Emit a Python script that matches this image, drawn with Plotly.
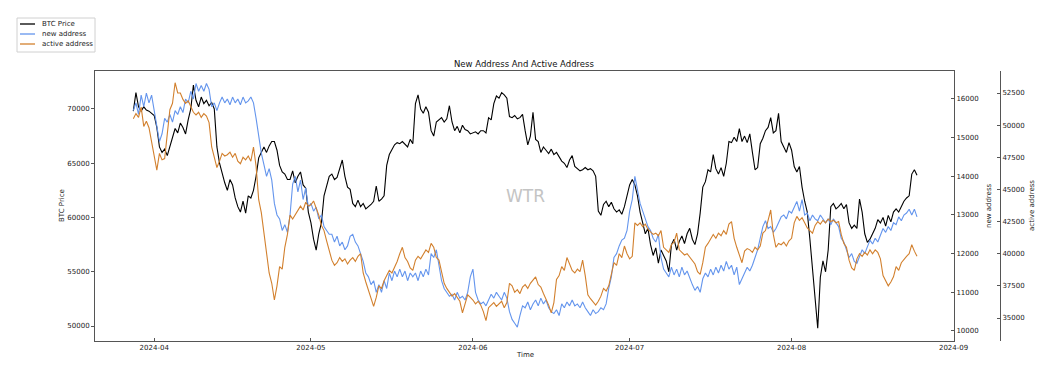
import pandas as pd
import plotly.graph_objects as go

START = "2024-03-28 00:00"
STEP = "12h"

btc_price = [
    69800,71500, 70200,69800, 70200,69900, 69800,69600, 69400,68300, 66500,66000, 66300,65700, 66500,67500, 68200,67800, 68700,68300,
    67700,69000, 70000,72200, 70800,70200, 71100,70500, 70800,70300, 70600,70000, 66500,65000, 64000,63200, 62500,63500, 63000,61800,
    61000,60500, 61500,60400, 62000,61800, 62500,63800, 65500,66000, 66500,66000, 66600,67000, 67000,66200, 64800,64200, 64000,63500,
    63500,64300, 63200,63800, 64200,63000, 62700,60500, 59500,58000, 57000,58500, 59500,62000, 63000,63800, 64000,63500, 63700,64500,
    65300,63800, 62800,62600, 61300,61000, 61600,61000, 61300,60800, 61000,61200, 61500,62900, 61500,61700, 62000,64800, 65800,66300,
    66700,66900, 66800,67000, 66700,66500, 67200,66800, 70500,71300, 70000,69600, 70200,69700, 68000,67500, 68800,69000, 69200,68800,
    69100,70300, 68800,68000, 68400,67800, 68500,68100, 68000,67700, 67800,67900, 67700,68000, 68000,67800, 69200,69000, 70500,71200,
    71000,71500, 71300,71000, 69300,69200, 69400,69100, 69200,69500, 68000,66700, 67500,69700, 67200,67000, 66000,66500, 66200,65900,
    66300,65800, 66000,65600, 65200,65000, 64600,65300, 65700,64700, 64500,64300, 64400,64600, 64400,64500, 64300,63800, 60600,60200,
    61200,61500, 61000,61400, 60800,60500, 60700,60300, 61000,62000, 63000,63500, 63000,62000, 60500,59500, 58500,59000, 57500,56500,
    57200,55800, 57000,56500, 56000,55000, 57500,58000, 57000,57800, 58300,57600, 58500,59000, 58000,57500, 58500,60400, 62800,63300,
    64400,64200, 65800,64500, 64000,64600, 63800,65000, 67000,66900, 67400,67000, 68200,67000, 67500,66900, 67700,66000, 64400,64600,
    66800,67300, 68000,68300, 69200,67800, 68000,69600, 67000,66500, 66000,66900, 66200,64700, 64200,64700, 62800,61500, 60500,58000,
    55000,52000, 49800,54500, 56000,55000, 57000,61000, 61300,60800, 61000,61300, 60800,61200, 59500,59000, 59300,59000, 61700,60500,
    58500,57700, 58000,58500, 59000,59800, 59500,60000, 59200,60200, 59600,60500, 60800,60500, 61000,61500, 61800,62000, 64000,64400,
    63900,
]

new_address = [
    15700,15900, 15600,16100, 15800,16150, 15900,16100, 15700,15300, 14900,15100, 15500,15400, 15600,15400, 15700,15600, 15800,15650,
    16000,15900, 16200,16000, 16400,16200, 16350,16200, 16400,16250, 15800,15900, 15700,15900, 16050,15900, 16000,15850, 16050,15900,
    16000,15850, 16050,15900, 15950,16050, 15900,15500, 15000,14600, 14300,14000, 14200,13900, 13300,13000, 12900,12600, 12750,12550,
    13000,13800, 14000,13600, 13900,13400, 13700,13200, 13300,13100, 13200,12900, 13000,12700, 12600,12500, 12500,12300, 12450,12200,
    12300,12100, 12200,12450, 12500,12300, 12200,12000, 11800,11500, 11400,11200, 11300,11000, 11200,11000, 11300,11100, 11500,11300,
    11550,11400, 11600,11400, 11550,11300, 11500,11400, 11500,11300, 11550,11400, 11600,11450, 12000,11900, 12100,11700, 11300,11100,
    11000,10900, 10950,10800, 11000,10850, 10900,10800, 11000,11400, 11600,11000, 10800,10700, 10750,10650, 10800,10950, 10850,11000,
    10900,10800, 11000,10850, 10500,10300, 10200,10100, 10400,10650, 10600,10750, 10550,10700, 10800,10650, 10850,10700, 10800,10600,
    10500,10450, 10550,10400, 10700,10600, 10750,10650, 10800,10650, 10700,10600, 10750,10600, 10500,10400, 10550,10450, 10500,10600,
    10550,10700, 11100,11400, 11900,12000, 12200,12350, 12400,12600, 13100,13400, 14000,13600, 13300,13100, 12900,12700, 12600,12400,
    12300,12500, 11900,11600, 11500,11400, 11650,11450, 11600,11400, 11650,11450, 11550,11350, 11200,11050, 11150,11000, 11350,11500,
    11400,11600, 11450,11650, 11500,11700, 11550,11800, 11600,11700, 11450,11650, 11200,11350, 11500,11650, 11550,11700, 11900,12100,
    12400,12700, 12850,12650, 12700,12550, 12650,12800, 12950,13000, 12900,13100, 13050,13200, 13350,13100, 13400,13000, 13050,12850,
    13000,12900, 12850,13000, 12900,12800, 12900,12750, 12900,12800, 12700,12400, 12300,12100, 11900,12000, 11800,11750, 11950,12100,
    12000,12200, 12350,12250, 12400,12300, 12500,12650, 12550,12700, 12600,12800, 12750,12950, 12850,13000, 13050,13150, 13000,13150,
    12950,
]

active_address = [
    50500,50900, 50600,51400, 49900,50300, 49800,48600, 47500,46500, 47800,47300, 47400,49500, 51200,51700, 53300,52500, 52500,52000,
    51700,51900, 51400,51000, 50800,51000, 50600,50900, 50700,50200, 48300,47500, 46700,47200, 47800,47600, 47700,47900, 47500,47800,
    47200,47000, 47500,47300, 47600,47200, 48300,46800, 44200,43200, 41600,40300, 38500,37700, 36400,37500, 39000,38800, 40500,41500,
    43000,42700, 43000,43300, 43700,43400, 44000,43700, 43800,44100, 43600,43000, 42200,41800, 41000,40200, 39500,39100, 39300,39700,
    39400,39600, 39200,39500, 39700,39400, 39800,40000, 38500,37800, 37200,36500, 35900,36600, 37500,37300, 37900,38300, 38700,38500,
    38900,39400, 40000,40500, 39700,39400, 38900,38700, 39500,39800, 39600,40000, 40300,40100, 40800,40500, 39700,39500, 38500,37700,
    37300,37000, 36700,36900, 36600,36300, 35400,36200, 36800,36600, 36400,36100, 36300,36000, 35500,34800, 35800,36000, 36200,35900,
    36100,36300, 35800,36200, 37700,37500, 37000,37200, 36900,37400, 37600,37300, 37700,38000, 38200,37600, 37400,36900, 36500,36000,
    35400,36200, 38000,38300, 39000,38700, 39700,39200, 38700,38500, 38800,38600, 39500,38300, 36800,36500, 36200,36000, 36300,36700,
    37300,37100, 37500,38500, 39300,39100, 40000,39700, 40600,40000, 39600,39800, 42400,42200, 42400,42100, 42300,41900, 41700,41500,
    41600,41400, 41800,40500, 40300,40100, 40700,40900, 41600,40300, 40100,39900, 40000,39700, 39500,39200, 38600,38400, 39300,40500,
    40800,41200, 41500,41200, 41600,41400, 41800,41500, 42300,42500, 41200,40500, 39800,39300, 40200,40400, 40300,40100, 40500,40300,
    40600,41600, 41800,42500, 43400,41500, 40500,40800, 40700,40900, 40600,41000, 41200,42400, 42900,42600, 42800,42400, 42000,41800,
    41600,42200, 42500,42300, 42600,42400, 42700,42500, 42600,42400, 42500,41500, 40800,40500, 39500,38900, 38700,39600, 40000,39800,
    40100,39900, 40300,40000, 40300,40100, 39600,38300, 37900,37500, 37800,38200, 39000,38700, 39300,39600, 39800,40000, 40700,40200,
    39800,
]

series_names = ["BTC Price", "new address", "active address"]
series_colors = ["#000000", "#6495ED", "#D2802E"]

month_ticks = ["2024-04-01", "2024-05-01", "2024-06-01", "2024-07-01", "2024-08-01", "2024-09-01"]
month_labels = ["2024-04", "2024-05", "2024-06", "2024-07", "2024-08", "2024-09"]
btc_ticks = [50000, 55000, 60000, 65000, 70000]
new_ticks = [10000, 11000, 12000, 13000, 14000, 15000, 16000]
active_ticks = [35000, 37500, 40000, 42500, 45000, 47500, 50000, 52500]

FONT = "DejaVu Sans"
OFF = 8                       # page body margin
W, H = 1048 - OFF, 381 - OFF  # figure size
L, R, T, B = 95, 954, 71, 341  # plot frame in window pixels
AX3 = 1000
SPINE = "#555555"
TXT = "#222222"


def px(x):
    return (x - OFF) / W


def py(y):
    return 1 - (y - OFF) / H


def times(series):
    return pd.date_range(START, periods=len(series), freq=STEP)


fig = go.Figure()
for vals, name, color, ax in zip([btc_price, new_address, active_address], series_names,
                                 series_colors, ["y", "y2", "y3"]):
    fig.add_trace(go.Scatter(x=times(vals), y=vals, name=name, mode="lines",
                             line=dict(color=color, width=1.1), yaxis=ax))

ydom = [py(B), py(T)]
tickfont = dict(family=FONT, size=7, color=TXT)
common = dict(showgrid=False, zeroline=False, showline=True, linecolor=SPINE, linewidth=1,
              ticklen=3, tickcolor=SPINE, tickfont=tickfont, automargin=False)

fig.update_layout(
    width=W, height=H,
    margin=dict(l=0, r=0, t=0, b=0),
    paper_bgcolor="white", plot_bgcolor="white",
    font=dict(family=FONT, size=7, color=TXT),
    showlegend=False,
    xaxis=dict(domain=[px(L), px(R)], type="date",
               range=["2024-03-20 16:00", "2024-09-01 02:00"],
               tickvals=month_ticks, ticktext=month_labels,
               mirror=True, ticks="inside", **common),
    yaxis=dict(domain=ydom, range=[48620, 73500], tickvals=btc_ticks, tickformat="d",
               ticks="outside", **common),
    yaxis2=dict(domain=ydom, range=[9741, 16724], tickvals=new_ticks, tickformat="d",
                overlaying="y", side="right", anchor="x", ticks="inside", **common),
    yaxis3=dict(domain=ydom, range=[33211, 54211], tickvals=active_ticks, tickformat="d",
                overlaying="y", side="right", anchor="free", position=px(AX3),
                ticks="inside", **common),
)

# legend box (drawn by hand to match the compact matplotlib legend)
fig.add_shape(type="rect", xref="paper", yref="paper", x0=px(17), x1=px(95), y0=py(52), y1=py(18),
              line=dict(color="#d0d0d0", width=1), fillcolor="white", layer="above")
for i, (name, color) in enumerate(zip(series_names, series_colors)):
    yy = 24 + 10 * i
    fig.add_shape(type="line", xref="paper", yref="paper", x0=px(20), x1=px(35), y0=py(yy), y1=py(yy),
                  line=dict(color=color, width=1.3), layer="above")
    fig.add_annotation(text=name, x=px(40), y=py(yy), xref="paper", yref="paper", showarrow=False,
                       xanchor="left", yanchor="middle", font=dict(family=FONT, size=7, color=TXT))

annots = [
    dict(text="New Address And Active Address", x=px((L + R) / 2), y=py(64),
         font=dict(family=FONT, size=8.5, color="#111111")),
    dict(text="Time", x=px((L + R) / 2), y=py(355), font=dict(family=FONT, size=7, color=TXT)),
    dict(text="BTC Price", x=px(62), y=py((T + B) / 2), textangle=-90,
         font=dict(family=FONT, size=7, color=TXT)),
    dict(text="new address", x=px(989), y=py((T + B) / 2), textangle=-90,
         font=dict(family=FONT, size=7, color=TXT)),
    dict(text="active address", x=px(1032), y=py((T + B) / 2), textangle=-90,
         font=dict(family=FONT, size=7, color=TXT)),
    dict(text="WTR", x=px(525), y=py(196), font=dict(family=FONT, size=17, color="#c4c4c4")),
]
for a in annots:
    a.update(xref="paper", yref="paper", showarrow=False, xanchor="center", yanchor="middle")
    fig.add_annotation(**a)

fig.write_html("out.html")
